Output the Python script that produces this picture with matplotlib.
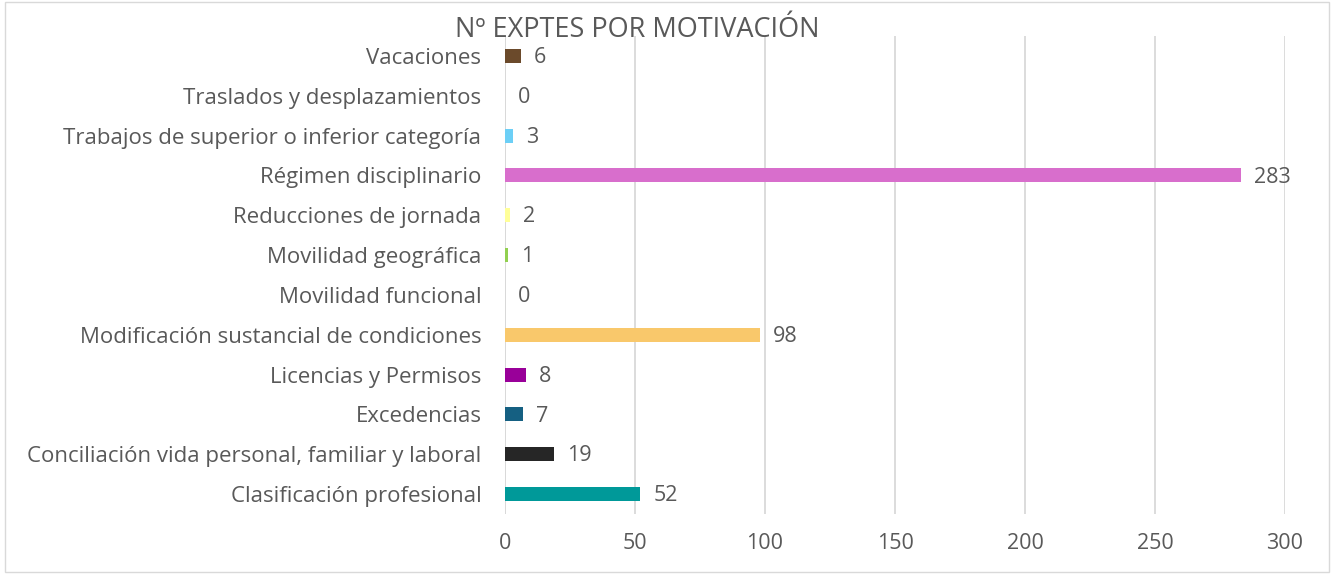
import matplotlib
matplotlib.use("Agg")
import matplotlib.pyplot as plt
from matplotlib.patches import Rectangle

plt.rcParams['font.family'] = ['Open Sans', 'DejaVu Sans']

categories = ['Clasificación profesional',
              'Conciliación vida personal, familiar y laboral',
              'Excedencias',
              'Licencias y Permisos',
              'Modificación sustancial de condiciones',
              'Movilidad funcional',
              'Movilidad geográfica',
              'Reducciones de jornada',
              'Régimen disciplinario',
              'Trabajos de superior o inferior categoría',
              'Traslados y desplazamientos',
              'Vacaciones']
values = [52, 19, 7, 8, 98, 0, 1, 2, 283, 3, 0, 6]
colors = ['#009999', '#262626', '#156082', '#990099', '#F9C86B', '#A0A0A0',
          '#92D050', '#FFFF99', '#D86ECC', '#6CCFF6', '#A0A0A0', '#6B4A2B']
xticks = [0, 50, 100, 150, 200, 250, 300]

text_color = '#595959'

fig = plt.figure(figsize=(13.34, 5.74), dpi=100)
fig.patches.append(Rectangle((0.004, 0.004), 0.992, 0.992, transform=fig.transFigure,
                             fill=False, edgecolor='#D9D9D9', linewidth=1))
ax = fig.add_axes([505 / 1334, 1 - 514 / 574, 780 / 1334, 478 / 574])

ypos = list(range(len(categories)))
ax.barh(ypos, values, height=0.35, color=colors, zorder=3)
for y, v in zip(ypos, values):
    ax.text(v + 5.0, y - 0.04, str(v), va='center', ha='left', fontsize=15.5, color=text_color)

ax.set_xlim(0, 300)
ax.set_ylim(-0.5, len(categories) - 0.5)
ax.set_xticks(xticks)
ax.set_yticks(ypos)
ax.set_yticklabels(categories)
ax.tick_params(axis='both', length=0, labelsize=15.5, labelcolor=text_color)
ax.tick_params(axis='y', labelsize=16)
ax.tick_params(axis='x', pad=14)
ax.tick_params(axis='y', pad=17)
ax.grid(axis='x', color='#D9D9D9', linewidth=1.3, zorder=0)
for s in ax.spines.values():
    s.set_visible(False)
ax.axvline(0, color='#D9D9D9', linewidth=1.3, zorder=1)

fig.text(0.4775, 0.948, 'Nº EXPTES POR MOTIVACIÓN', ha='center', va='center',
         fontsize=19.5, color=text_color)

fig.savefig('out.png', dpi=100)
